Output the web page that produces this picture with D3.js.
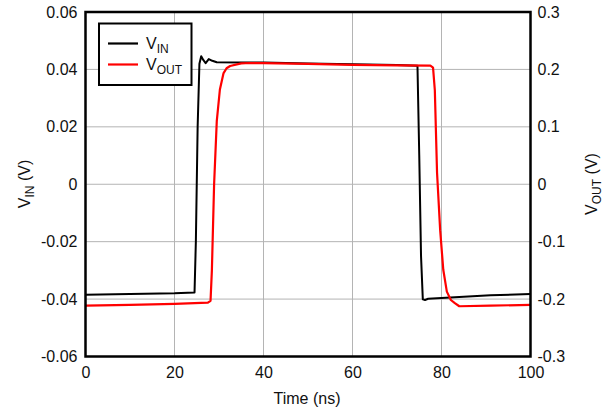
<!DOCTYPE html>
<html><head><meta charset="utf-8">
<script src="https://cdn.jsdelivr.net/npm/d3@7"></script>
<style>body{margin:0;background:#fff;}svg text{font-family:"Liberation Sans",Arial,sans-serif;fill:#111;}</style>
</head><body><svg id="c" width="603" height="410"></svg>
<script>
const timeTicks = [0, 20, 40, 60, 80, 100];
const vinTicks = [-0.06, -0.04, -0.02, 0, 0.02, 0.04, 0.06];
const voutTicks = [-0.3, -0.2, -0.1, 0, 0.1, 0.2, 0.3];
const vinT = [0, 10, 20, 24.5, 24.8, 25.2, 25.6, 26, 26.5, 27, 27.7, 28.5, 29.5, 35, 40, 50, 60, 70, 74.6, 75.0, 75.4, 75.8, 76.3, 77, 80, 91, 100];
const vinV = [-0.0385, -0.0382, -0.038, -0.0377, -0.02, 0.02, 0.042, 0.0446, 0.0432, 0.0422, 0.0436, 0.043, 0.0425, 0.0424, 0.0424, 0.0421, 0.0418, 0.0415, 0.0413, 0.01, -0.025, -0.0401, -0.0403, -0.0399, -0.0396, -0.0387, -0.0382];
const voutT = [0, 10, 20, 27.5, 28.1, 28.4, 28.9, 29.5, 30.2, 31, 31.7, 32.5, 35, 37, 40, 50, 60, 70, 77.5, 78.1, 78.5, 79, 79.7, 80.4, 81.2, 82.1, 83, 84, 91, 100];
const voutV = [-0.2115, -0.210, -0.2085, -0.2063, -0.203, -0.15, 0.0, 0.11, 0.165, 0.193, 0.202, 0.206, 0.2105, 0.2112, 0.2108, 0.2095, 0.208, 0.207, 0.2065, 0.203, 0.164, 0.02, -0.08, -0.149, -0.187, -0.2016, -0.207, -0.2125, -0.2115, -0.210];
const seriesNames = ["IN", "OUT"];

const svg = d3.select("#c");
const L = 85.5, R = 530.5, T = 12, B = 356.5;
const x = d3.scaleLinear().domain([0, 100]).range([L, R]);
const yL = d3.scaleLinear().domain([-0.06, 0.06]).range([B, T]);
const yR = d3.scaleLinear().domain([-0.3, 0.3]).range([B, T]);

const loc = d3.formatLocale({decimal: ".", thousands: ",", grouping: [3], currency: ["$", ""], minus: "-"});

// grid
const g = svg.append("g");
g.selectAll(".gx").data(timeTicks.slice(1, -1)).enter().append("line")
  .attr("x1", d => x(d)).attr("x2", d => x(d)).attr("y1", T).attr("y2", B)
  .attr("stroke", "#b4b4b4").attr("stroke-width", 1);
g.selectAll(".gy").data(vinTicks.slice(1, -1)).enter().append("line")
  .attr("x1", L).attr("x2", R).attr("y1", d => yL(d)).attr("y2", d => yL(d))
  .attr("stroke", "#b4b4b4").attr("stroke-width", 1);

// axes labels
const fmtL = d => d === 0 ? "0" : loc.format(".2f")(d);
const fmtR = d => d === 0 ? "0" : loc.format(".1f")(d);
svg.append("g").attr("transform", `translate(${L},0)`)
  .call(d3.axisLeft(yL).tickValues(vinTicks).tickFormat(fmtL).tickSize(0).tickPadding(8))
  .call(a => a.select(".domain").remove())
  .selectAll("text").style("font-size", "16px").attr("fill", "#111");
svg.append("g").attr("transform", `translate(${R},0)`)
  .call(d3.axisRight(yR).tickValues(voutTicks).tickFormat(fmtR).tickSize(0).tickPadding(7))
  .call(a => a.select(".domain").remove())
  .selectAll("text").style("font-size", "16px").attr("fill", "#111");
svg.append("g").attr("transform", `translate(0,${B})`)
  .call(d3.axisBottom(x).tickValues(timeTicks).tickFormat(loc.format("d")).tickSize(0).tickPadding(10))
  .call(a => a.select(".domain").remove())
  .selectAll("text").style("font-size", "16px").attr("fill", "#111");

// lines
const lineL = d3.line().x(d => x(d[0])).y(d => yL(d[1]));
const lineR = d3.line().x(d => x(d[0])).y(d => yR(d[1]));
svg.append("path").datum(vinT.map((t, i) => [t, vinV[i]])).attr("d", lineL)
  .attr("fill", "none").attr("stroke", "#000").attr("stroke-width", 2).attr("stroke-linejoin", "round");
svg.append("path").datum(voutT.map((t, i) => [t, voutV[i]])).attr("d", lineR)
  .attr("fill", "none").attr("stroke", "#ff0000").attr("stroke-width", 2.2).attr("stroke-linejoin", "round");

// frame
svg.append("rect").attr("x", L).attr("y", T).attr("width", R - L).attr("height", B - T)
  .attr("fill", "none").attr("stroke", "#000").attr("stroke-width", 2.5);

// legend
svg.append("rect").attr("x", 99).attr("y", 23.5).attr("width", 92.5).attr("height", 61.5)
  .attr("fill", "#fff").attr("stroke", "#000").attr("stroke-width", 2);
const leg = [{c: "#000", y: 43.5, s: seriesNames[0]}, {c: "#ff0000", y: 64.5, s: seriesNames[1]}];
leg.forEach(l => {
  svg.append("line").attr("x1", 108).attr("x2", 138).attr("y1", l.y).attr("y2", l.y)
    .attr("stroke", l.c).attr("stroke-width", 2.2);
  const t = svg.append("text").attr("x", 146).attr("y", l.y + 5).style("font-size", "16px");
  t.append("tspan").text("V");
  t.append("tspan").attr("dy", 4).style("font-size", "12px").text(l.s);
});

// axis titles
svg.append("text").attr("x", 307).attr("y", 404).attr("text-anchor", "middle").style("font-size", "16px").text("Time (ns)");
const tl = svg.append("text").attr("transform", `translate(30,184) rotate(-90)`).attr("text-anchor", "middle").style("font-size", "16px");
tl.append("tspan").text("V");
tl.append("tspan").attr("dy", 4).style("font-size", "12px").text("IN");
tl.append("tspan").attr("dy", -4).text(" (V)");
const tr = svg.append("text").attr("transform", `translate(597,184) rotate(-90)`).attr("text-anchor", "middle").style("font-size", "16px");
tr.append("tspan").text("V");
tr.append("tspan").attr("dy", 4).style("font-size", "12px").text("OUT");
tr.append("tspan").attr("dy", -4).text(" (V)");
</script></body></html>
